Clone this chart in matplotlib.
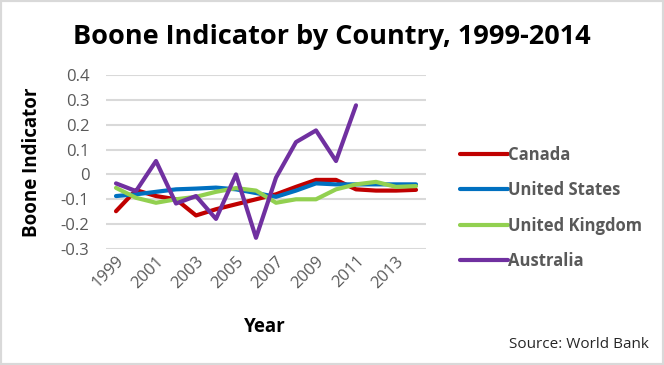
import matplotlib
matplotlib.use("Agg")
import matplotlib.pyplot as plt
from matplotlib.patches import Rectangle

years = list(range(1999, 2015))
canada = [-0.148, -0.063, -0.087, -0.10, -0.165, -0.14, -0.12, -0.10, -0.08, -0.05, -0.022, -0.022, -0.06, -0.065, -0.065, -0.062]
united_states = [-0.087, -0.08, -0.07, -0.06, -0.057, -0.053, -0.06, -0.075, -0.09, -0.065, -0.036, -0.04, -0.04, -0.04, -0.04, -0.04]
united_kingdom = [-0.054, -0.094, -0.114, -0.10, -0.09, -0.07, -0.055, -0.065, -0.114, -0.10, -0.10, -0.06, -0.04, -0.03, -0.05, -0.047]
aus_years = list(range(1999, 2012))
australia = [-0.036, -0.067, 0.054, -0.117, -0.087, -0.179, 0.0, -0.255, -0.013, 0.13, 0.177, 0.054, 0.278]
tick_years = list(range(1999, 2015, 2))
yticks = [-0.3, -0.2, -0.1, 0, 0.1, 0.2, 0.3, 0.4]
ytick_labels = ["-0.3", "-0.2", "-0.1", "0", "0.1", "0.2", "0.3", "0.4"]

plt.rcParams['font.family'] = ['Open Sans', 'DejaVu Sans']

fig = plt.figure(figsize=(6.64, 3.65), dpi=100)
ax = fig.add_axes([106/664, 1-249/365, 320/664, 174/365])

gray = '#595959'
kw = dict(lw=3, solid_capstyle='round', solid_joinstyle='round')
ax.plot(years, canada, color='#C00000', label='Canada', **kw)
ax.plot(years, united_states, color='#0070C0', label='United States', **kw)
ax.plot(years, united_kingdom, color='#92D050', label='United Kingdom', **kw)
ax.plot(aus_years, australia, color='#7030A0', label='Australia', **kw)

ax.set_xlim(1998.5, 2014.5)
ax.set_ylim(-0.3, 0.4)
ax.set_yticks(yticks)
ax.set_yticklabels(ytick_labels, color=gray, fontsize=12)
ax.set_xticks(tick_years)
ax.set_xticklabels([str(y) for y in tick_years], rotation=45, ha='right', va='top',
                   rotation_mode='anchor', color=gray, fontsize=12)
ax.tick_params(axis='both', length=0, pad=3)
ax.tick_params(axis='y', pad=12)
ax.grid(axis='y', color='#D9D9D9', lw=1.5)
ax.set_axisbelow(True)
for s in ax.spines.values():
    s.set_visible(False)

ax.set_ylabel('Boone Indicator', fontsize=13.5, fontweight='bold', color='black')
ax.yaxis.set_label_coords(-0.2, 0.5)
fig.text(265/664, 1-327/365, 'Year', fontsize=13.5, fontweight='bold', ha='center', va='center')

fig.text(332/664, 1-44/365, 'Boone Indicator by Country, 1999-2014', fontsize=19.5,
         fontweight='bold', ha='center', va='baseline', color='black')

leg = ax.legend(loc='center left', bbox_to_anchor=(445/664, 1-208/365), bbox_transform=fig.transFigure,
                frameon=False, fontsize=12, handlelength=2.9, handletextpad=0.0, labelspacing=1.05)
for t in leg.get_texts():
    t.set_color(gray)
    t.set_fontweight('bold')

fig.text(649/664, 1-345/365, 'Source: World Bank', fontsize=11, ha='right', va='center', color='#262626')

fig.patches.append(Rectangle((0, 0), 1, 1, transform=fig.transFigure, fill=False,
                             edgecolor='#D9D9D9', lw=3))

fig.savefig('out.png', dpi=100)
